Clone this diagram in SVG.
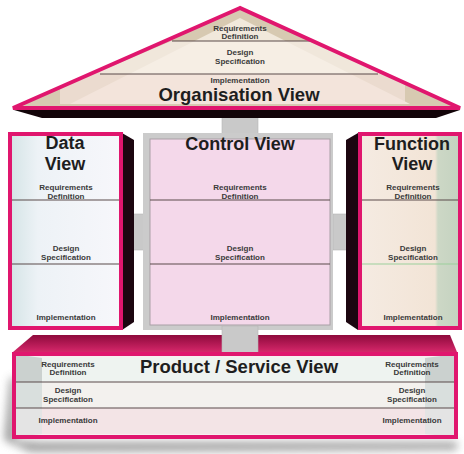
<svg xmlns="http://www.w3.org/2000/svg" width="464" height="454" viewBox="0 0 464 454">
<defs>
<style>
.s{font-family:"Liberation Sans",Arial,sans-serif;font-weight:bold;font-size:8px;fill:#3a3a3a;text-anchor:middle}
.b{font-family:"Liberation Sans",Arial,sans-serif;font-weight:bold;fill:#1e1e1e;text-anchor:middle}
.ln{stroke:#5a4a4a;stroke-width:1.2}
.pk{fill:none;stroke:#e0166e;stroke-width:4}
.conn{fill:#c9c9c9;stroke:#b5b5b5;stroke-width:0.6}
.side{fill:#1c0610}
</style>
<linearGradient id="slab" x1="0" y1="0" x2="0" y2="1">
<stop offset="0" stop-color="#8e0a3c"/><stop offset="1" stop-color="#d5276a"/>
</linearGradient>
<linearGradient id="dataFill" x1="0" y1="0" x2="1" y2="0">
<stop offset="0" stop-color="#d4e4e6"/><stop offset="0.25" stop-color="#edf2f6"/><stop offset="1" stop-color="#f7f7fb"/>
</linearGradient>
<linearGradient id="funcFill" x1="0" y1="0" x2="1" y2="0">
<stop offset="0" stop-color="#f5ebe2"/><stop offset="0.75" stop-color="#f2e4d6"/><stop offset="0.78" stop-color="#cdd8c6"/><stop offset="1" stop-color="#c4d2c0"/>
</linearGradient>
<filter id="blur" x="-0.2" y="-0.5" width="1.4" height="2"><feGaussianBlur stdDeviation="4"/></filter>
<clipPath id="roofIn"><polygon points="240,12 20,105 460,105"/></clipPath>
</defs>
<rect width="464" height="454" fill="#ffffff"/>

<g id="connectors">
<rect class="conn" x="222" y="110" width="36" height="26"/>
<rect class="conn" x="122" y="214" width="23" height="36"/>
<rect class="conn" x="333" y="214" width="24" height="36"/>
</g>

<g id="organisation-view">
<polygon points="14,110 460,110 436,118 42,118" fill="#120408"/>
<polygon points="240,8 13,108 460,108" fill="#d7c9b1"/>
<g clip-path="url(#roofIn)">
<polygon points="240,18 70,104 410,104" fill="#f1e8db"/>
<rect x="0" y="41" width="464" height="33" fill="#f6eee6" opacity="0.55"/>
<rect x="100" y="41" width="280" height="33" fill="#f7efe7" opacity="0.5"/>
<rect x="60" y="74" width="345" height="30" fill="#f4e2dc" opacity="0.7"/>
</g>
<line class="ln" x1="172" y1="41" x2="310" y2="41"/>
<line class="ln" x1="100" y1="74" x2="378" y2="74"/>
<polygon class="pk" points="240,8 13,108 460,108" stroke-linejoin="miter"/>
<text class="s" x="240" y="31">Requirements</text>
<text class="s" x="240" y="39">Definition</text>
<text class="s" x="240" y="55">Design</text>
<text class="s" x="240" y="64">Specification</text>
<text class="s" x="240" y="83">Implementation</text>
<text class="b" x="239" y="101" font-size="18.5">Organisation View</text>
</g>

<g id="data-view">
<polygon class="side" points="122,133 134,140 134,322 122,330"/>
<rect x="10" y="134" width="111" height="194" fill="url(#dataFill)"/>
<line class="ln" x1="10" y1="200" x2="121" y2="200"/>
<line class="ln" x1="10" y1="264" x2="121" y2="264"/>
<rect class="pk" x="10" y="134" width="111" height="194"/>
<text class="b" x="65" y="149" font-size="18">Data</text>
<text class="b" x="65" y="170" font-size="18">View</text>
<text class="s" x="66" y="190">Requirements</text>
<text class="s" x="66" y="199">Definition</text>
<text class="s" x="66" y="251">Design</text>
<text class="s" x="66" y="260">Specification</text>
<text class="s" x="66" y="320">Implementation</text>
</g>

<g id="control-view">
<rect x="143" y="133" width="190" height="197" fill="#cbcbcb"/>
<rect x="150" y="139" width="180" height="186" fill="#f4d8ea" stroke="#a9a0a6" stroke-width="1"/>
<line class="ln" x1="150" y1="200" x2="330" y2="200"/>
<line class="ln" x1="150" y1="264" x2="330" y2="264"/>
<text class="b" x="240" y="150" font-size="18">Control View</text>
<text class="s" x="240" y="190">Requirements</text>
<text class="s" x="240" y="199">Definition</text>
<text class="s" x="240" y="251">Design</text>
<text class="s" x="240" y="260">Specification</text>
<text class="s" x="240" y="320">Implementation</text>
</g>

<g id="function-view">
<polygon class="side" points="358,133 346,140 346,322 358,330"/>
<rect x="360" y="134" width="100" height="194" fill="url(#funcFill)"/>
<line class="ln" x1="360" y1="200" x2="460" y2="200"/>
<line x1="360" y1="264" x2="460" y2="264" stroke="#9ccf9c" stroke-width="1.2"/>
<rect class="pk" x="360" y="134" width="100" height="194"/>
<text class="b" x="412" y="150" font-size="18">Function</text>
<text class="b" x="412" y="170" font-size="18">View</text>
<text class="s" x="413" y="190">Requirements</text>
<text class="s" x="413" y="199">Definition</text>
<text class="s" x="413" y="251">Design</text>
<text class="s" x="413" y="260">Specification</text>
<text class="s" x="413" y="320">Implementation</text>
</g>

<g id="product-service-view">
<polygon points="10,378 16,378 16,440 40,442 458,442 456,450 30,452 4,440" fill="#8a8a8a" filter="url(#blur)" opacity="0.8"/>
<polygon points="13,352 33,335 450,335 457,352" fill="url(#slab)"/>
<rect class="conn" x="222" y="326" width="36" height="27"/>
<rect x="14" y="354" width="442" height="83" fill="#f6eff0"/>
<polygon points="14,354 42,358 42,382 14,382" fill="#b9c4c0" opacity="0.7"/>
<polygon points="14,382 42,382 42,408 14,408" fill="#cdd8d4" opacity="0.7"/>
<polygon points="14,408 42,408 42,434 14,437" fill="#d8dcdc" opacity="0.6"/>
<polygon points="456,354 425,358 425,382 456,382" fill="#b9c4c0" opacity="0.7"/>
<polygon points="456,382 425,382 425,408 456,408" fill="#cdd8d4" opacity="0.7"/>
<polygon points="456,408 425,408 425,434 456,437" fill="#d8dcdc" opacity="0.6"/>
<rect x="42" y="358" width="383" height="24" fill="#eef3f0"/>
<rect x="42" y="382" width="383" height="26" fill="#f3f1ee"/>
<rect x="42" y="408" width="383" height="26" fill="#f3e4e6"/>
<line class="ln" x1="14" y1="382" x2="456" y2="382" stroke="#c9a8b4"/>
<line class="ln" x1="14" y1="408" x2="456" y2="408" stroke="#9a8c90"/>
<rect class="pk" x="14" y="354" width="442" height="83"/>
<text class="b" x="239" y="373" font-size="18.5">Product / Service View</text>
<text class="s" x="68" y="367">Requirements</text>
<text class="s" x="68" y="375">Definition</text>
<text class="s" x="68" y="393">Design</text>
<text class="s" x="68" y="402">Specification</text>
<text class="s" x="68" y="423">Implementation</text>
<text class="s" x="412" y="367">Requirements</text>
<text class="s" x="412" y="375">Definition</text>
<text class="s" x="412" y="393">Design</text>
<text class="s" x="412" y="402">Specification</text>
<text class="s" x="412" y="423">Implementation</text>
</g>
</svg>
